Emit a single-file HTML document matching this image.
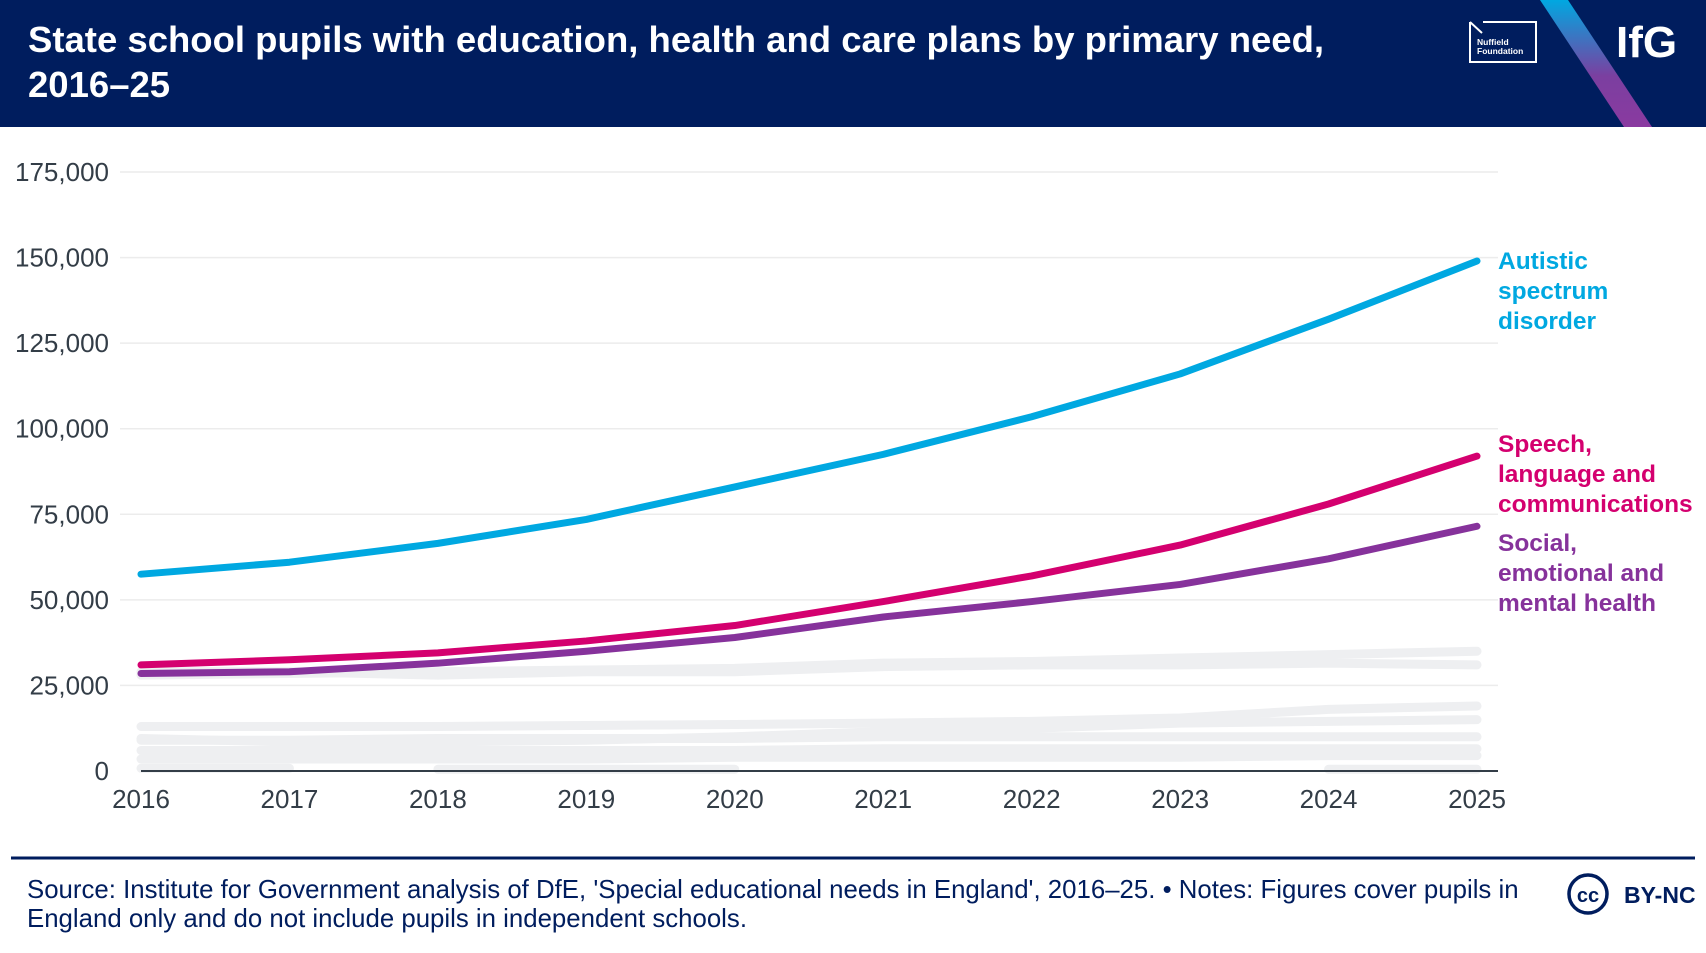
<!DOCTYPE html>
<html><head><meta charset="utf-8"><style>
html,body{margin:0;padding:0;background:#fff;}
body{width:1706px;height:948px;overflow:hidden;font-family:"Liberation Sans",sans-serif;}
text{font-family:"Liberation Sans",sans-serif;}
</style></head><body>
<svg id="chart" width="1706" height="948" xmlns="http://www.w3.org/2000/svg">
<defs><linearGradient id="stripe" x1="0" y1="0" x2="0" y2="1"><stop offset="0" stop-color="#00a8e1"/><stop offset="0.6" stop-color="#7b3fa0"/><stop offset="1" stop-color="#8a3aa0"/></linearGradient></defs>
<rect x="0" y="0" width="1706" height="127" fill="#001d5e"/>
<polygon points="1540,0 1568,0 1652,127 1624,127" fill="url(#stripe)"/>
<text x="28" y="52" fill="#fff" font-size="36.5" font-weight="bold">State school pupils with education, health and care plans by primary need,</text>
<text x="28" y="97" fill="#fff" font-size="36.5" font-weight="bold">2016–25</text>
<g>
<path d="M1470,22 L1470,62 L1536,62 L1536,22 L1483,22 M1470,22 L1482,33" stroke="#fff" stroke-width="2" fill="none"/>
<text x="1477" y="45" fill="#fff" font-size="8.5" font-weight="bold">Nuffield</text>
<text x="1477" y="54" fill="#fff" font-size="8.5" font-weight="bold">Foundation</text>
</g>
<text x="1616" y="57" fill="#fff" font-size="44" font-weight="bold">IfG</text>
<g id="grid"></g>
<g id="lines"></g>
<line x1="141" y1="771" x2="1498" y2="771" stroke="#333d47" stroke-width="2"/>
<g id="labels"></g>
<text fill="#00a8e1" font-size="24.5" font-weight="bold"><tspan x="1498" y="269">Autistic</tspan><tspan x="1498" y="299">spectrum</tspan><tspan x="1498" y="329">disorder</tspan></text>
<text fill="#d4006f" font-size="24.5" font-weight="bold"><tspan x="1498" y="452">Speech,</tspan><tspan x="1498" y="482">language and</tspan><tspan x="1498" y="512">communications</tspan></text>
<text fill="#86329b" font-size="24.5" font-weight="bold"><tspan x="1498" y="551">Social,</tspan><tspan x="1498" y="581">emotional and</tspan><tspan x="1498" y="611">mental health</tspan></text>
<line x1="11" y1="858" x2="1695" y2="858" stroke="#001d5e" stroke-width="3"/>
<text fill="#001d5e" font-size="25.8"><tspan x="27" y="898">Source: Institute for Government analysis of DfE, 'Special educational needs in England', 2016–25. • Notes: Figures cover pupils in</tspan><tspan x="27" y="927">England only and do not include pupils in independent schools.</tspan></text>
<g>
<circle cx="1588" cy="894" r="19" fill="none" stroke="#001d5e" stroke-width="3.5"/>
<text x="1588" y="902" text-anchor="middle" fill="#001d5e" font-size="20" font-weight="bold">cc</text>
<text x="1624" y="903" fill="#001d5e" font-size="23" font-weight="bold">BY-NC</text>
</g>
</svg>
<script>
const years=[2016,2017,2018,2019,2020,2021,2022,2023,2024,2025];
const yTicks=[0,25000,50000,75000,100000,125000,150000,175000];
const yTickLabels=["0","25,000","50,000","75,000","100,000","125,000","150,000","175,000"];
const asd=[57500,61000,66500,73500,83000,92500,103500,116000,132000,149000];
const slcn=[31000,32500,34500,38000,42500,49500,57000,66000,78000,92000];
const semh=[28500,29000,31500,35000,39000,45000,49500,54500,62000,71500];
const grey1=[28000,28500,29000,29500,30000,31500,32000,33000,34000,35000];
const grey2=[29000,29000,28000,29000,29000,30500,31000,31000,31500,31000];
const grey3=[13000,13000,13000,13300,13600,14000,14500,15500,18000,19000];
const grey4=[9500,8500,8500,9000,10000,11500,12500,14000,14500,15000];
const grey5=[9000,9000,9500,9500,9500,10000,10000,10000,10000,10000];
const grey6=[6000,6000,6000,6000,6000,6500,6500,6500,6500,6500];
const grey7=[3500,3500,3500,3500,4000,4000,4000,4000,4500,4500];
const grey8=[800,800,null,null,null,null,null,null,500,500];
const grey9=[null,null,500,500,500,null,null,null,null,null];
const NS="http://www.w3.org/2000/svg";
const x=y=>141+(y-2016)*(1477-141)/9;
const yv=v=>771-v*(771-172)/175000;
function mk(t,a){const e=document.createElementNS(NS,t);for(const k in a)e.setAttribute(k,a[k]);return e;}
const grid=document.getElementById('grid'),labels=document.getElementById('labels'),lines=document.getElementById('lines');
yTicks.forEach((t,i)=>{
 if(t>0){const g=mk('line',{x1:120,x2:1498,y1:yv(t),y2:yv(t),stroke:'#ececec','stroke-width':1.5});
 
 
 grid.appendChild(g);}
 const l=mk('text',{x:109,y:yv(t)+9,'text-anchor':'end','font-size':26,fill:'#333d47'});
 
 
 l.textContent=yTickLabels[i];labels.appendChild(l);
});
years.forEach(y=>{
 const l=mk('text',{x:x(y),y:808,'text-anchor':'middle','font-size':26,fill:'#333d47'});
 
 
 l.textContent=y;labels.appendChild(l);
});
function path(vals){let d='',pen=false;vals.forEach((v,i)=>{if(v==null){pen=false;return;}d+=(pen?'L':'M')+x(years[i])+','+yv(v)+' ';pen=true;});return d;}
function draw(vals,col,w,name){const p=mk('path',{d:path(vals),stroke:col,'stroke-width':w,fill:'none','stroke-linecap':'round','stroke-linejoin':'round'});
 
 
 lines.appendChild(p);}
[grey1,grey2,grey3,grey4,grey5,grey6,grey7,grey8,grey9].forEach((g,i)=>draw(g,'#eeeff1',9,'line-other-need-'+(i+1)));
draw(semh,'#86329b',7,'line-semh');
draw(slcn,'#d4006f',7,'line-slcn');
draw(asd,'#00a8e1',7,'line-asd');
</script>
</body></html>
